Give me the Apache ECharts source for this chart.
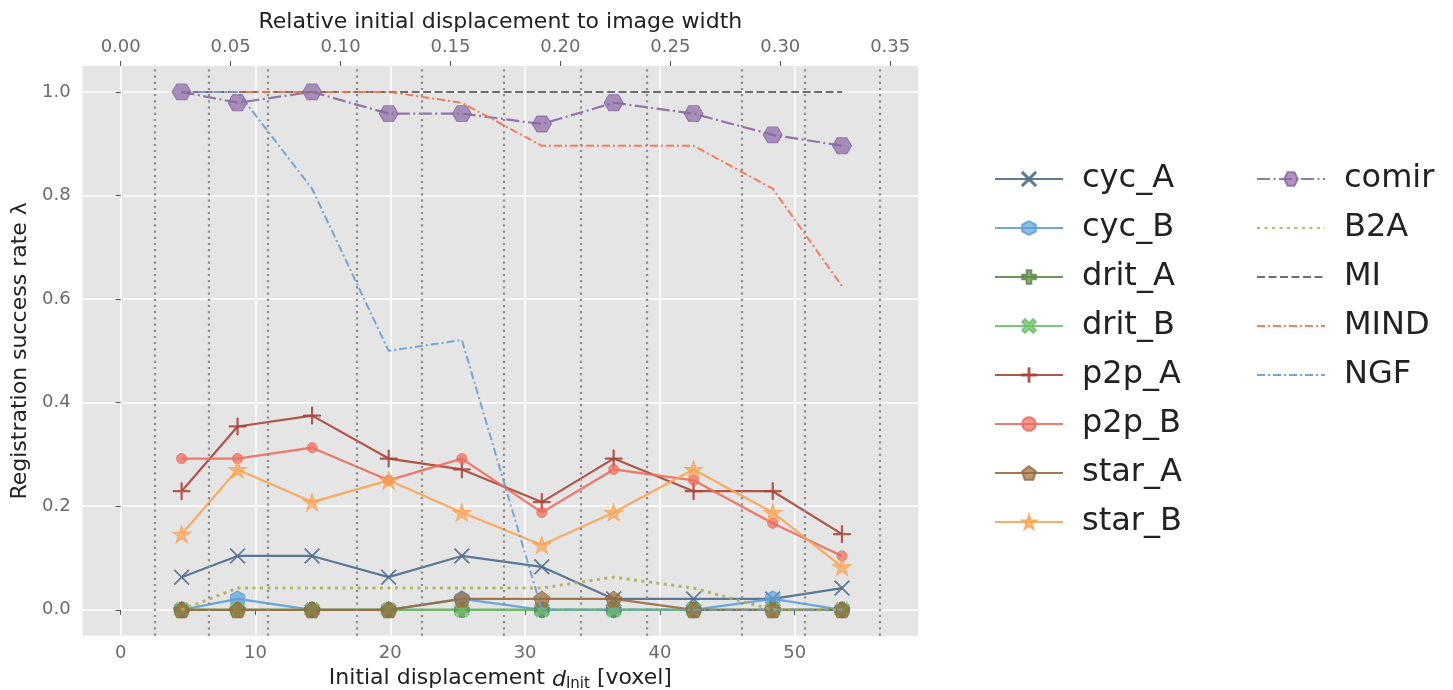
<!DOCTYPE html>
<html>
<head>
<meta charset="utf-8">
<script src="https://cdn.jsdelivr.net/npm/echarts@6/dist/echarts.min.js"></script>
<style>html,body{margin:0;padding:0;background:#fff}#c{width:1453px;height:690px}</style>
</head>
<body>
<div id="c"></div>
<script>
// ---- data ----
const xVals = [4.52, 8.67, 14.2, 19.88, 25.31, 31.24, 36.57, 42.5, 48.37, 53.51];
const binEdges = [2.55, 6.55, 10.89, 17.51, 22.30, 28.42, 34.10, 38.99, 46.05, 50.74, 56.33];
const cycA  = [0.063, 0.104, 0.104, 0.063, 0.104, 0.083, 0.021, 0.021, 0.021, 0.042];
const cycB  = [0, 0.021, 0, 0, 0.021, 0, 0, 0, 0.021, 0];
const dritA = [0, 0, 0, 0, 0, 0, 0, 0, 0, 0];
const dritB = [0, 0, 0, 0, 0, 0, 0, 0, 0, 0];
const p2pA  = [0.229, 0.354, 0.375, 0.292, 0.271, 0.208, 0.292, 0.229, 0.229, 0.146];
const p2pB  = [0.292, 0.292, 0.313, 0.25, 0.292, 0.188, 0.271, 0.25, 0.167, 0.104];
const starA = [0, 0, 0, 0, 0.021, 0.021, 0.021, 0, 0, 0];
const starB = [0.146, 0.271, 0.208, 0.25, 0.188, 0.125, 0.188, 0.271, 0.188, 0.083];
const comir = [1.0, 0.979, 1.0, 0.958, 0.958, 0.938, 0.979, 0.958, 0.917, 0.896];
const b2a   = [0, 0.042, 0.042, 0.042, 0.042, 0.042, 0.063, 0.042, 0, 0];
const mi    = [1, 1, 1, 1, 1, 1, 1, 1, 1, 1];
const mind  = [1, 1, 1, 1, 0.979, 0.896, 0.896, 0.896, 0.813, 0.625];
const ngf   = [1, 1, 0.813, 0.5, 0.521, 0, 0, 0, 0, 0];
const xTicks = [0, 10, 20, 30, 40, 50];
const topTicks = [0, 0.05, 0.10, 0.15, 0.20, 0.25, 0.30, 0.35];
const yTicks = [0, 0.2, 0.4, 0.6, 0.8, 1.0];
const imageWidth = 163.1;
const legendCol1 = ['cyc_A', 'cyc_B', 'drit_A', 'drit_B', 'p2p_A', 'p2p_B', 'star_A', 'star_B'];
const legendCol2 = ['comir', 'B2A', 'MI', 'MIND', 'NGF'];
const noMarker = ['B2A', 'MI', 'MIND', 'NGF'];

// ---- layout ----
const xMin = -2.817, xMax = 59.147;
const FONT = 'DejaVu Sans';
const SYM = {
  xthin: 'path://M0,5 L5,0 L50,45 L95,0 L100,5 L55,50 L100,95 L95,100 L50,55 L5,100 L0,95 L45,50 Z',
  plusthin: 'path://M46.5,0 H53.5 V46.5 H100 V53.5 H53.5 V100 H46.5 V53.5 H0 V46.5 H46.5 Z',
  plusfat: 'path://M33,0 H67 V33 H100 V67 H67 V100 H33 V67 H0 V33 H33 Z',
  xfat: 'path://M0,20 L20,0 L50,30 L80,0 L100,20 L70,50 L100,80 L80,100 L50,70 L20,100 L0,80 L30,50 Z',
  hexFlat: 'path://M0,43.3 L25,0 L75,0 L100,43.3 L75,86.6 L25,86.6 Z',
  hexPoint: 'path://M43.3,0 L86.6,25 L86.6,75 L43.3,100 L0,75 L0,25 Z',
  pent: 'path://M50,0 L100,36.3 L80.9,95.1 L19.1,95.1 L0,36.3 Z',
  star: 'path://M50,0 L61.23,34.55 L97.55,34.55 L68.17,55.9 L79.39,90.45 L50,69.1 L20.61,90.45 L31.83,55.9 L2.45,34.55 L38.77,34.55 Z'
};
function pts(v) { return xVals.map((x, i) => [x, v[i]]); }
function hexA(c, a) {
  const r = parseInt(c.slice(1,3),16), g = parseInt(c.slice(3,5),16), b = parseInt(c.slice(5,7),16);
  return 'rgba(' + r + ',' + g + ',' + b + ',' + a + ')';
}
function mk(name, vals, color, symbol, size, type, width, z) {
  return {
    name: name, type: 'line', data: pts(vals), z: z,
    symbol: symbol || 'none', symbolSize: size || 0, showSymbol: !!symbol,
    lineStyle: { color: color, width: width || 2, type: type || 'solid', opacity: 0.9, cap: 'butt' },
    itemStyle: { color: hexA(color, 0.7), borderColor: hexA(color, 0.85), borderWidth: 1 },
    emphasis: { disabled: true }, silent: true, animation: false
  };
}
const series = [
  {
    name: 'bins', type: 'line', data: [], z: 1, silent: true,
    markLine: {
      silent: true, symbol: 'none', animation: false,
      label: { show: false },
      lineStyle: { color: '#8e8e8e', width: 2.2, type: [2.2, 4] },
      data: binEdges.map(v => ({ xAxis: v }))
    }
  },
  mk('cyc_A', cycA, '#4e6b8c', SYM.xthin, [15, 15], 'solid', 2.2, 2),
  mk('cyc_B', cycB, '#5e9fd9', SYM.hexPoint, [14, 16], 'solid', 2.2, 2),
  mk('drit_A', dritA, '#5c8a48', SYM.plusfat, [15, 15], 'solid', 2.2, 2),
  mk('drit_B', dritB, '#6cc06a', SYM.xfat, [15, 15], 'solid', 2.2, 2),
  mk('p2p_A', p2pA, '#a8443a', SYM.plusthin, [17, 17], 'solid', 2.2, 2),
  mk('p2p_B', p2pB, '#ee6b5c', 'circle', 10, 'solid', 2.2, 2),
  mk('star_A', starA, '#9b693c', SYM.pent, [16, 16], 'solid', 2.2, 2),
  mk('star_B', starB, '#f9a455', SYM.star, [18, 17], 'solid', 2.2, 2),
  mk('comir', comir, '#8a68a3', SYM.hexFlat, [19, 16], [13, 3.5, 2, 3.5], 2.2, 3),
  mk('B2A', b2a, '#b0ae58', null, 0, [3, 4.5], 3, 3),
  mk('MI', mi, '#5e5e5e', null, 0, [8, 3.5], 2, 3),
  mk('MIND', mind, '#ee7352', null, 0, [8, 3, 2, 3], 2, 3),
  mk('NGF', ngf, '#689fd2', null, 0, [8, 3, 2, 3], 2, 3)
];

const tickLbl = { color: '#6b6b6b', fontSize: 18, fontFamily: FONT };
const nameStyle = { color: '#222', fontSize: 22, fontFamily: FONT };
const legendText = { fontSize: 32, color: '#222', fontFamily: FONT, lineHeight: 32, padding: [0, 0, 0, 14] };
function legendData(names) {
  return names.map(n => noMarker.indexOf(n) >= 0 ? { name: n, itemStyle: { opacity: 0 } } : { name: n });
}

const option = {
  animation: false,
  backgroundColor: '#ffffff',
  grid: { left: 82.7, top: 66, right: 535, bottom: 54.3, show: true, backgroundColor: '#e5e5e6', borderWidth: 0, containLabel: false, outerBoundsMode: 'none' },
  xAxis: [
    {
      type: 'value', position: 'bottom', min: xMin, max: xMax,
      name: 'Initial displacement {i|d}{s|Init} [voxel]', nameLocation: 'middle', nameGap: 30,
      nameTextStyle: Object.assign({}, nameStyle, {
        rich: {
          i: { fontSize: 22, fontStyle: 'italic', fontFamily: FONT, color: '#222', lineHeight: 26, verticalAlign: 'bottom' },
          s: { fontSize: 15, fontFamily: FONT, color: '#222', lineHeight: 14, verticalAlign: 'bottom' }
        }
      }),
      axisLine: { show: false },
      axisTick: { show: true, length: 5, lineStyle: { color: '#555' }, customValues: xTicks },
      axisLabel: Object.assign({ margin: 9, customValues: xTicks, formatter: v => String(v) }, tickLbl),
      splitLine: { show: true, lineStyle: { color: '#ffffff', width: 1.5 } }
    },
    {
      type: 'value', position: 'top', min: xMin / imageWidth, max: xMax / imageWidth,
      name: 'Relative initial displacement to image width', nameLocation: 'middle', nameGap: 32,
      nameTextStyle: nameStyle,
      axisLine: { show: false },
      axisTick: { show: true, length: 5, lineStyle: { color: '#555' }, customValues: topTicks },
      axisLabel: Object.assign({ margin: 10, customValues: topTicks, formatter: v => v.toFixed(2) }, tickLbl),
      splitLine: { show: false }
    }
  ],
  yAxis: {
    type: 'value', min: -0.05, max: 1.05,
    name: 'Registration success rate λ', nameLocation: 'middle', nameGap: 42,
    nameTextStyle: nameStyle,
    axisLine: { show: false },
    axisTick: { show: true, length: 5, lineStyle: { color: '#555' }, customValues: yTicks },
    axisLabel: Object.assign({ margin: 12, customValues: yTicks, formatter: v => v.toFixed(1) }, tickLbl),
    splitLine: { show: true, lineStyle: { color: '#ffffff', width: 1.5 } }
  },
  legend: [
    { data: legendData(legendCol1), orient: 'vertical', left: 989, top: 158, itemWidth: 68, itemHeight: 17, itemGap: 17, textStyle: legendText, selectedMode: false },
    { data: legendData(legendCol2), orient: 'vertical', left: 1251, top: 158, itemWidth: 68, itemHeight: 17, itemGap: 17, textStyle: legendText, selectedMode: false }
  ],
  series: series
};
const chart = echarts.init(document.getElementById('c'), null, { renderer: 'canvas' });
chart.setOption(option);
</script>
</body>
</html>
